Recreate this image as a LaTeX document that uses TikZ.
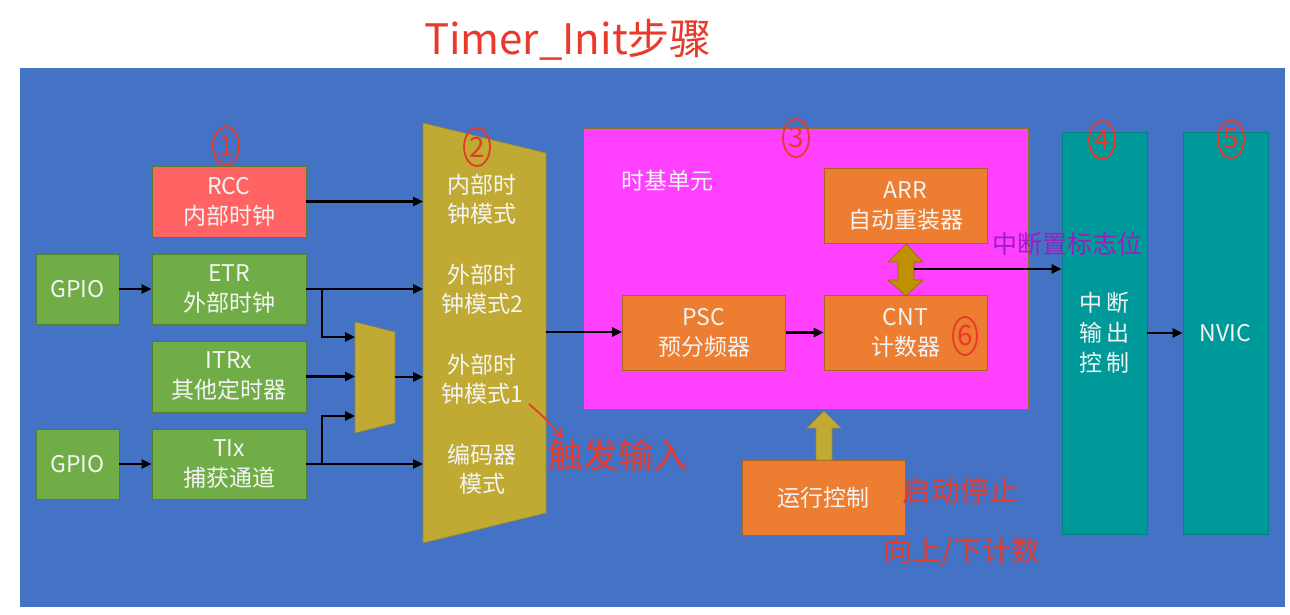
\documentclass[tikz,border=0pt]{standalone}
\usepackage{fontspec}
\newfontfamily\cjk{Noto Sans CJK SC}
\usetikzlibrary{arrows.meta,shapes.geometric,calc}
\definecolor{bgblue}{HTML}{4472C4}
\definecolor{grn}{HTML}{70AD47}
\definecolor{grnD}{HTML}{507E32}
\definecolor{rccred}{HTML}{FF6363}
\definecolor{mag}{HTML}{FF40FF}
\definecolor{orng}{HTML}{ED7D31}
\definecolor{orngD}{HTML}{A5651E}
\definecolor{gold}{HTML}{C0AA34}
\definecolor{dgold}{HTML}{BF9000}
\definecolor{teal}{HTML}{009999}
\definecolor{txt}{HTML}{F4F4F4}
\definecolor{hred}{HTML}{E8392A}
\definecolor{hpurp}{HTML}{9B1FC0}
\newcommand\bt{\cjk\fontsize{23}{30}\selectfont}
\tikzset{
  blk/.style={draw=grnD, line width=0.8pt, text=txt, font=\bt, align=center, inner sep=0pt},
  gbox/.style={blk, fill=grn, minimum height=70pt},
  obox/.style={blk, fill=orng, draw=orngD, minimum width=163pt, minimum height=75pt},
  tbox/.style={blk, fill=teal, draw=teal!85!black, minimum width=85pt, minimum height=402pt},
  arr/.style={-{Triangle[length=10pt,width=9pt]}, line width=2.4pt, black},
  num/.style={ellipse, draw=hred, line width=1.8pt, text=hred, inner sep=0pt, minimum width=26pt, minimum height=38pt, font=\cjk\fontsize{28}{28}\selectfont},
  hand/.style={text=hred, inner sep=0pt, font=\cjk\fontsize{29}{29}\selectfont}
}
\begin{document}
\begin{tikzpicture}[x=1pt,y=-1pt]
\useasboundingbox (0,0) rectangle (1290,615);
\fill[white] (0,0) rectangle (1290,615);
\fill[bgblue] (20,68) rectangle (1285,607);

% left boxes
\node[blk, fill=rccred, draw=grnD, minimum width=154pt, minimum height=71pt] (rcc) at (229,201.5) {RCC\\内部时钟};
\node[gbox, minimum width=83pt] (gpio1) at (77.5,289) {GPIO};
\node[gbox, minimum width=154pt] (etr) at (229,289) {ETR\\外部时钟};
\node[gbox, minimum width=154pt, minimum height=71pt] (itrx) at (229,376.5) {ITRx\\其他定时器};
\node[gbox, minimum width=83pt] (gpio2) at (77.5,464) {GPIO};
\node[gbox, minimum width=154pt] (tix) at (229,464) {TIx\\捕获通道};

% small mux
\fill[gold, draw=gold!80!black, line width=0.6pt] (355,322) -- (395,332) -- (395,423) -- (355,433) -- cycle;
\coordinate (smIn1) at (355,337);
\coordinate (smIn2) at (355,377);
\coordinate (smIn3) at (355,416);
\coordinate (smOut) at (395,377);
\coordinate (jx) at (322,0);

% big mux
\fill[gold, draw=gold!80!black, line width=0.6pt] (423,123) -- (546,153) -- (546,513) -- (423,543) -- cycle;
\coordinate (bigL) at (423,0);
\coordinate (bigR) at (546,332);
\node[text=txt, font=\cjk\fontsize{23}{29}\selectfont, align=center] (mode1) at (482,199) {内部时\\钟模式};
\node[text=txt, font=\cjk\fontsize{23}{29}\selectfont, align=center] (mode2) at (482,289) {外部时\\钟模式2};
\node[text=txt, font=\cjk\fontsize{23}{29}\selectfont, align=center] (mode3) at (482,379) {外部时\\钟模式1};
\node[text=txt, font=\cjk\fontsize{23}{29}\selectfont, align=center] (mode4) at (482,469) {编码器\\模式};

% time base unit
\node[blk, fill=mag, draw=gold!70!black, minimum width=445pt, minimum height=281pt] (tb) at (805.5,269) {};
\node[text=txt, font=\bt, anchor=west, inner sep=0pt] (tbl) at (621,181) {时基单元};
\node[obox] (arrb) at (905.5,206) {ARR\\自动重装器};
\node[obox] (psc) at (704,332.5) {PSC\\预分频器};
\node[obox] (cnt) at (905.5,332.5) {CNT\\计数器};
\fill[dgold, draw=dgold!75!black, line width=0.6pt] (906,244) -- (923,262) -- (914,262) -- (914,280) -- (923,280) -- (906,296) -- (888,280) -- (898,280) -- (898,262) -- (888,262) -- cycle;
\coordinate (dblR) at (914,269);

% teal columns
\node[tbox] (t4) at (1104.5,333) {中\,断\\输\,出\\控\,制};
\node[tbox] (t5) at (1225.5,333) {NVIC};

% run control
\node[obox] (run) at (823.5,497.5) {运行控制};
\fill[gold, draw=gold!80!black, line width=0.6pt] (824,411) -- (841,428) -- (832,428) -- (832,460) -- (816,460) -- (816,428) -- (807,428) -- cycle;

% connectors
\draw[arr] (rcc.east) -- (rcc.east -| bigL);
\draw[arr] (gpio1.east) -- (etr.west);
\draw[arr] (etr.east) -- (etr.east -| bigL);
\draw[arr] (etr.east -| jx) |- (smIn1);
\draw[arr] (itrx.east) -- (itrx.east -| smIn2);
\draw[arr] (smOut) -- (smOut -| bigL);
\draw[arr] (gpio2.east) -- (tix.west);
\draw[arr] (tix.east) -- (tix.east -| bigL);
\draw[arr] (tix.east -| jx) |- (smIn3);
\draw[arr] (bigR) -- (bigR -| psc.west);
\draw[arr] (psc.east) -- (cnt.west);
\draw[arr] (dblR) -- (dblR -| t4.west);
\draw[arr] (t4.east) -- (t5.west);

% annotations
\node[text=hred, inner sep=0pt, font=\cjk\fontsize{42}{42}\selectfont] (title) at (568,40) {Timer\_Init步骤};
\node[num] (n1) at (226,146) {1};
\node[num] (n2) at (477,147) {2};
\node[num] (n3) at (796,138) {3};
\node[num] (n4) at (1102,140) {4};
\node[num] (n5) at (1231,139) {5};
\node[num, minimum width=24pt] (n6) at (965,336) {6};
\node[hand, font=\cjk\fontsize{35}{35}\selectfont] (trig) at (618,455) {触发输入};
\coordinate (trigA) at (529,404);
\draw[hred, line width=1.8pt, -{Straight Barb[length=8pt,width=10pt]}] (trigA) .. controls (545,418) .. (563,438);
\node[hand, text=hpurp, font=\cjk\fontsize{25}{25}\selectfont] (flag) at (1067,244) {中断置标志位};
\node[hand] (startstop) at (960,490) {启动停止};
\node[hand] (updown) at (962,552) {向上/下计数};
\end{tikzpicture}
\end{document}
